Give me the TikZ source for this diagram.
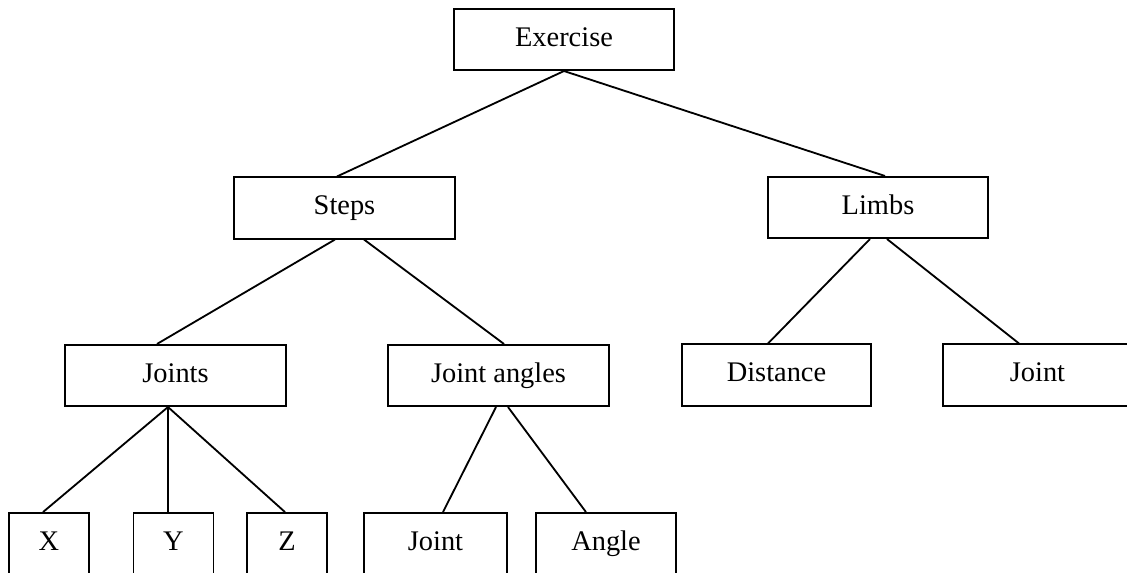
\documentclass[tikz,border=0pt]{standalone}
\usepackage{fontspec}
\setmainfont{Liberation Serif}
\usetikzlibrary{calc}

\begin{document}
\begin{tikzpicture}[
  x=0.025cm, y=-0.025cm,
  font=\fontsize{20.2}{24}\selectfont,
  tbox/.style={
    draw=black, line width=1.3pt, fill=white,
    inner sep=0pt, minimum height=1.53cm,
    text height=14pt, text depth=4.4pt,
    align=center,
  },
  widebox/.style={tbox, minimum width=5.51cm},
  midbox/.style={tbox, minimum width=4.72cm},
  leafbox/.style={tbox, minimum width=2cm, minimum height=1.55cm},
  edge/.style={draw=black, line width=1.3pt},
]

% === PAGE FRAME ===
\clip (0,0) rectangle (1127,573);

% === LEVEL 0 ===
\node[widebox] (ex) at (564, 39.5) {Exercise};

% === LEVEL 1 ===
\node[widebox] (st) at (344.5, 208) {Steps};
\node[widebox] (lb) at (878, 207.5) {Limbs};

% === LEVEL 2 ===
\node[widebox] (jt) at (175.5, 375.5) {Joints};
\node[widebox] (ja) at (498.5, 375.5) {Joint angles};
\node[midbox]  (ds) at (776.5, 375) {Distance};
\node[midbox]  (jr) at (1037.5, 375) {Joint};

% === LEVEL 3 (cut at the bottom edge) ===
\node[leafbox] (x)  at (49, 544)    {X};
\node[leafbox] (y)  at (173.5, 544) {Y};
\node[leafbox] (z)  at (287, 544)   {Z};
\node[leafbox, minimum width=3.575cm] (jj) at (435.5, 544) {Joint};
\node[leafbox, minimum width=3.5cm]   (an) at (606, 544)   {Angle};

% === CONNECTING LINES ===
\draw[edge] (ex.south) -- ($(st.north)+(-7.5,0)$);
\draw[edge] (ex.south) -- ($(lb.north)+(7,0)$);

\draw[edge] ($(st.south)+(-9.5,0)$) -- ($(jt.north)+(-18.5,0)$);
\draw[edge] ($(st.south)+(19.5,0)$) -- ($(ja.north)+(5.5,0)$);

\draw[edge] ($(lb.south)+(-8,0)$) -- ($(ds.north)+(-8.5,0)$);
\draw[edge] ($(lb.south)+(9,0)$)  -- ($(jr.north)+(-18.5,0)$);

\draw[edge] ($(jt.south)+(-7.5,0)$) -- ($(x.north)+(-6,0)$);
\draw[edge] ($(jt.south)+(-7.5,0)$) -- ($(y.north)+(-5.5,0)$);
\draw[edge] ($(jt.south)+(-7.5,0)$) -- ($(z.north)+(-2,0)$);

\draw[edge] ($(ja.south)+(-2.5,0)$) -- ($(jj.north)+(7.5,0)$);
\draw[edge] ($(ja.south)+(9.5,0)$)  -- ($(an.north)+(-20,0)$);

\end{tikzpicture}
\end{document}
